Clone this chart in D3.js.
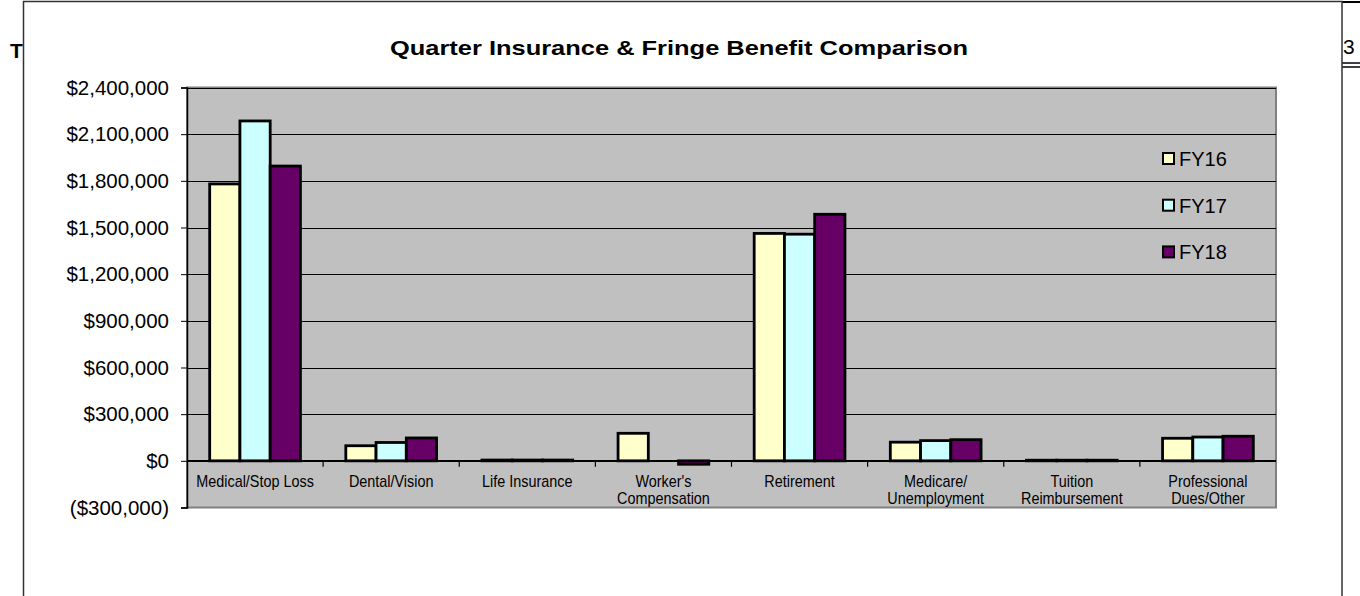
<!DOCTYPE html>
<html>
<head>
<meta charset="utf-8">
<script src="https://cdn.jsdelivr.net/npm/d3@7"></script>
<style>
  body { margin: 0; background: #fff; }
  svg { display: block; font-family: "Liberation Sans", Arial, sans-serif; }
</style>
</head>
<body>
<div id="chart"></div>
<script>
// chart data
var categories = ["Medical/Stop Loss", "Dental/Vision", "Life Insurance", "Worker's Compensation",
  "Retirement", "Medicare/ Unemployment", "Tuition Reimbursement", "Professional Dues/Other"];
var catLabels = [["Medical/Stop Loss"], ["Dental/Vision"], ["Life Insurance"], ["Worker's", "Compensation"],
  ["Retirement"], ["Medicare/", "Unemployment"], ["Tuition", "Reimbursement"], ["Professional", "Dues/Other"]];
var seriesNames = ["FY16", "FY17", "FY18"];
var fy16 = [1780000, 97000, 5000, 177000, 1462000, 120000, 4000, 145000];
var fy17 = [2185000, 118000, 5000, 0, 1457000, 130000, 4000, 153000];
var fy18 = [1895000, 147000, 5000, -22000, 1585000, 136000, 4000, 158000];
var yTicks = [-300000, 0, 300000, 600000, 900000, 1200000, 1500000, 1800000, 2100000, 2400000];
var colors = ["#FFFFCC", "#CCFFFF", "#660066"];

var svgWidth = 1360;
var svgHeight = 596;

var plot = {left: 187, right: 1276, top: 87.5, bottom: 507.5};

var svg = d3.select("#chart")
  .append("svg")
  .attr("width", svgWidth)
  .attr("height", svgHeight);

// page bits around the chart object
svg.append("text")
  .attr("x", 10).attr("y", 58)
  .attr("font-size", 21).attr("font-weight", "bold")
  .text("T");
svg.append("text")
  .attr("x", 1343).attr("y", 54)
  .attr("font-size", 21)
  .text("3");
svg.append("line").attr("x1", 1342).attr("x2", 1360).attr("y1", 2).attr("y2", 2)
  .attr("stroke", "#000").attr("stroke-width", 2);
svg.append("line").attr("x1", 1342).attr("x2", 1360).attr("y1", 63).attr("y2", 63)
  .attr("stroke", "#000").attr("stroke-width", 1.5);
svg.append("line").attr("x1", 1342).attr("x2", 1360).attr("y1", 67).attr("y2", 67)
  .attr("stroke", "#000").attr("stroke-width", 1.5);

// chart object frame
svg.append("rect")
  .attr("x", 23.5).attr("y", 1.5)
  .attr("width", 1342 - 23.5).attr("height", 620)
  .attr("fill", "#fff")
  .attr("stroke", "#333").attr("stroke-width", 1.5);

svg.append("text")
  .attr("x", 679).attr("y", 55)
  .attr("text-anchor", "middle")
  .attr("font-size", 21).attr("font-weight", "bold")
  .attr("textLength", 578).attr("lengthAdjust", "spacingAndGlyphs")
  .text("Quarter Insurance & Fringe Benefit Comparison");

// scales
var x0 = d3.scaleBand()
  .domain(categories)
  .range([plot.left, plot.right])
  .padding(0);

var x1 = d3.scaleBand()
  .domain(seriesNames)
  .range([0, x0.bandwidth()])
  .paddingInner(0)
  .paddingOuter(0.75);

var y = d3.scaleLinear()
  .domain([-300000, 2400000])
  .range([plot.bottom, plot.top]);

// plot area
svg.append("rect")
  .attr("x", plot.left).attr("y", plot.top)
  .attr("width", plot.right - plot.left).attr("height", plot.bottom - plot.top)
  .attr("fill", "#C0C0C0")
  .attr("stroke", "#808080").attr("stroke-width", 2);

// gridlines
svg.append("g").selectAll("line")
  .data(yTicks.filter(d => d > -300000))
  .enter().append("line")
  .attr("x1", plot.left).attr("x2", plot.right)
  .attr("y1", d => Math.round(y(d)) + 0.5).attr("y2", d => Math.round(y(d)) + 0.5)
  .attr("stroke", "#000").attr("stroke-width", 1);

// y axis
var fmt = function(d) {
  var s = "$" + d3.format(",")(Math.abs(d));
  return d < 0 ? "(" + s + ")" : s;
};
var yAxis = svg.append("g")
  .attr("transform", `translate(${plot.left}, 0)`)
  .call(d3.axisLeft(y).tickValues(yTicks).tickFormat(fmt).tickSize(6).tickPadding(12));
yAxis.select(".domain").attr("stroke", "#000").attr("stroke-width", 1.5);
yAxis.selectAll("text").attr("font-size", 20.5).attr("fill", "#000")
  .attr("font-family", "Liberation Sans, Arial, sans-serif");

// bars
var rows = categories.map(function(c, i) {
  return {cat: c, vals: [fy16[i], fy17[i], fy18[i]]};
});

var groups = svg.append("g").selectAll("g")
  .data(rows)
  .enter().append("g")
  .attr("transform", d => `translate(${x0(d.cat)}, 0)`);

groups.selectAll("rect")
  .data(d => d.vals.map((v, j) => ({name: seriesNames[j], value: v, color: colors[j]})))
  .enter().append("rect")
  .filter(d => d.value !== 0)
  .attr("x", d => x1(d.name))
  .attr("y", d => y(Math.max(0, d.value)))
  .attr("width", x1.bandwidth())
  .attr("height", d => Math.abs(y(d.value) - y(0)))
  .attr("fill", d => d.color)
  .attr("stroke", "#000").attr("stroke-width", 2.8);

// category axis at zero
var xAxis = svg.append("g")
  .attr("transform", `translate(0, ${y(0)})`);
xAxis.append("line")
  .attr("x1", plot.left).attr("x2", plot.right)
  .attr("stroke", "#000").attr("stroke-width", 1.5);
xAxis.selectAll(".tk")
  .data(categories.slice(1))
  .enter().append("line")
  .attr("class", "tk")
  .attr("x1", d => x0(d)).attr("x2", d => x0(d))
  .attr("y1", 0).attr("y2", 6)
  .attr("stroke", "#000").attr("stroke-width", 1.2);

var labelG = xAxis.selectAll(".lbl")
  .data(catLabels)
  .enter().append("text")
  .attr("class", "lbl")
  .attr("text-anchor", "middle")
  .attr("font-size", 16)
  .attr("transform", (d, i) => `translate(${x0(categories[i]) + x0.bandwidth() / 2}, 0) scale(0.9, 1)`);
labelG.selectAll("tspan")
  .data(d => d)
  .enter().append("tspan")
  .attr("x", 0)
  .attr("y", (d, i) => 26 + i * 17.5)
  .text(d => d);

// legend
var legend = svg.append("g")
  .attr("transform", "translate(1163, 158.5)");
var li = legend.selectAll("g")
  .data(seriesNames)
  .enter().append("g")
  .attr("transform", (d, i) => `translate(0, ${i * 46.7})`);
li.append("rect")
  .attr("x", 0).attr("y", -5.5)
  .attr("width", 11).attr("height", 11)
  .attr("fill", (d, i) => colors[i])
  .attr("stroke", "#000").attr("stroke-width", 2);
li.append("text")
  .attr("x", 16).attr("y", 7.5)
  .attr("font-size", 20)
  .text(d => d);
</script>
</body>
</html>
